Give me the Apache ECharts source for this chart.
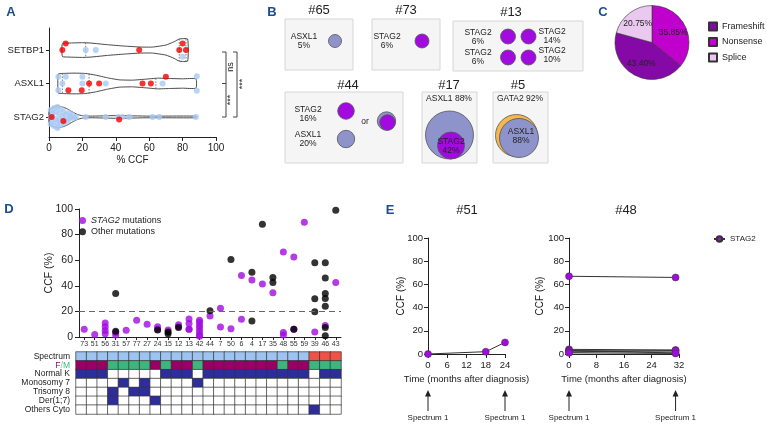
<!DOCTYPE html>
<html>
<head>
<meta charset="utf-8">
<title>STAG2 clonal architecture</title>
<script src="https://cdn.jsdelivr.net/npm/echarts@6.0.0/dist/echarts.min.js"></script>
<style>
  html, body { margin: 0; padding: 0; background: #fff; }
  #chart { width: 767px; height: 430px; }
</style>
</head>
<body>
<div id="chart"></div>
<script>
const FONT = 'Liberation Sans, Arial, sans-serif'
const PURPLE = '#A10BE0'
const LAV = '#8E93CB'
const ORANGE = '#F6B74C'
const LETTER = '#1E4D8C'

// ---- A: CCF per gene (violin + dots), [ccf, jitter] ----
const genes = ['STAG2', 'ASXL1', 'SETBP1']
const violinCCF = {
  STAG2: [0, 2, 5, 8, 11, 14, 17, 20, 25, 40, 60, 88],
  ASXL1: [5.5, 8, 15, 22, 28, 35, 42, 50, 58, 65, 72, 80, 88],
  SETBP1: [8, 12, 20, 25, 35, 45, 55, 62, 70, 75, 78, 83]
}
const violinDensity = {
  STAG2: [0.18, 0.27, 0.33, 0.3, 0.24, 0.15, 0.075, 0.036, 0.024, 0.04, 0.024, 0.024],
  ASXL1: [0.28, 0.3, 0.31, 0.3, 0.25, 0.17, 0.11, 0.1, 0.13, 0.16, 0.15, 0.14, 0.14],
  SETBP1: [0.19, 0.21, 0.22, 0.21, 0.16, 0.12, 0.09, 0.09, 0.15, 0.25, 0.33, 0.33]
}
const violinQuartiles = { STAG2: [], ASXL1: [8, 24, 64], SETBP1: [22, 78, 82] }

const redSTAG2 = [[1.6, 0], [8.6, -0.12], [42, -0.08]]
const blueSTAG2 = [[1, 0.21], [1, 0], [1, -0.21], [2, 0.09], [2, -0.12], [3, 0.27], [3, -0.27], [4, 0.15],
  [4, -0.06], [5, 0.3], [5, -0.18], [5, -0.33], [6, 0.09], [6, -0.09], [7, 0.24], [7, -0.24], [8, 0],
  [9, 0.15], [9, -0.18], [10, 0.06], [11, -0.12], [12, 0.12], [12, -0.06], [13, 0], [14, 0.06],
  [15, -0.03], [16, 0], [22, 0], [34, 0], [41.5, 0], [44, 0], [48, 0], [62, 0], [66, 0], [88, 0]]
const redASXL1 = [[11.6, -0.2], [19.6, -0.2], [24, 0], [30, 0], [56, 0], [61, 0], [70, 0.2]]
const blueASXL1 = [[5.6, 0.2], [5.6, -0.2], [8, 0], [10, 0.2], [20, 0.2], [20, 0], [34, 0], [68, 0], [88.5, 0.22], [88.5, -0.22]]
const redSETBP1 = [[8, 0], [10, 0.2], [54, 0], [80, 0.2], [78, 0], [82, 0]]
const blueSETBP1 = [[22, 0], [28, 0], [80, -0.2]]

// ---- C: mutation types ----
const mutTypes = ['Frameshift', 'Nonsense', 'Splice']
const mutPct = [43.40, 35.85, 20.75]
const mutColors = ['#8409A6', '#C000CC', '#EBC8EF']
const pieOrder = [1, 0, 2]

// ---- D: CCF per patient ----
const patients = ['73', '51', '56', '31', '57', '77', '27', '24', '15', '12', '13', '42', '44', '7', '50', '6', '4', '17', '35', '48', '55', '59', '39', '46', '43']
const stag2CCF = [[6], [2], [11, 8, 5, 2.5], [1.5, 3.5], [5.2], [13], [10], [8, 6], [5.5], [9.5, 8], [14, 10.5, 6, 6],
  [13, 11.5, 9, 7, 4.5, 2, 0.5], [16.5], [22.5, 7.8], [6.5], [48, 13.8], [44.6], [41.5], [34.5], [66.5, 3.5, 1.5],
  [62.5, 6], [89.6], [4], [9], [42.5]]
const otherCCF = [[], [], [], [34, 4.5], [], [], [], [5.5], [4, 2.5], [7.5], [], [], [20.5], [], [60.6], [], [50.6, 12.5],
  [88], [46.5, 42.5], [], [6], [], [58, 29.8, 19.8], [58, 46, 34, 30, 24, 7.5, 1], [99]]
const heatRows = ['Spectrum', 'F/M', 'Normal K', 'Monosomy 7', 'Trisomy 8', 'Der(1;7)', 'Others Cyto']
const spectrumVer = [1, 1, 1, 1, 1, 1, 1, 1, 1, 1, 1, 1, 1, 1, 1, 1, 1, 1, 1, 1, 1, 1, 2, 2, 2]
const sex = ['F', 'F', 'F', 'M', 'M', 'M', 'M', 'F', 'M', 'F', 'F', 'M', 'F', 'F', 'F', 'F', 'F', 'F', 'F', 'M', 'F', 'F', 'M', 'M', 'M']
const normalK = [1, 1, 1, 0, 0, 0, 0, 0, 1, 1, 1, 0, 1, 1, 1, 1, 1, 1, 1, 1, 1, 1, 0, 1, 1]
const mono7 = [0, 0, 0, 0, 1, 0, 1, 0, 0, 0, 0, 1, 0, 0, 0, 0, 0, 0, 0, 0, 0, 0, 0, 0, 0]
const tri8 = [0, 0, 0, 1, 0, 1, 1, 0, 0, 0, 0, 0, 0, 0, 0, 0, 0, 0, 0, 0, 0, 0, 0, 0, 0]
const der17 = [0, 0, 0, 1, 0, 0, 0, 1, 0, 0, 0, 0, 0, 0, 0, 0, 0, 0, 0, 0, 0, 0, 0, 0, 0]
const othersCyto = [0, 0, 0, 0, 0, 0, 0, 0, 0, 0, 0, 0, 0, 0, 0, 0, 0, 0, 0, 0, 0, 0, 1, 0, 0]

// ---- E: follow-up ----
const months51 = [0, 18, 24]
const stag2Series51 = [[0, 2, 10]]
const months48 = [0, 31]
const stag2Series48 = [[67, 66], [4, 3.5], [3, 2.5], [2.5, 1], [1.5, 3], [1, 0.5]]
const spectrumTimes51 = [0, 24]
const spectrumTimes48 = [0, 31]
const spectrumLabel = 'Spectrum 1'

function interp (xs, ys, x) {
  for (let k = 1; k < xs.length; k++) {
    if (x <= xs[k]) {
      const f = (x - xs[k - 1]) / (xs[k] - xs[k - 1])
      return ys[k - 1] + f * (ys[k] - ys[k - 1])
    }
  }
  return ys[ys.length - 1]
}

function renderViolin (params, api) {
  const i = params.dataIndex
  const g = genes[i]
  const xs = violinCCF[g]
  const ws = violinDensity[g]
  const top = xs.map((x, k) => api.coord([x, i + ws[k]]))
  const bot = xs.map((x, k) => api.coord([x, i - ws[k]])).reverse()
  const children = [{
    type: 'polygon',
    shape: { points: top.concat(bot), smooth: 0.15 },
    style: { fill: 'none', stroke: '#333', lineWidth: 0.9 }
  }]
  violinQuartiles[g].forEach(q => {
    const w = interp(xs, ws, q)
    const a = api.coord([q, i + w])
    const b = api.coord([q, i - w])
    children.push({
      type: 'line',
      shape: { x1: a[0], y1: a[1], x2: b[0], y2: b[1] },
      style: { stroke: '#555', lineWidth: 0.8, lineDash: [1.5, 1.5] }
    })
  })
  return { type: 'group', children }
}

function toRows (byGene) {
  const out = []
  genes.forEach((g, i) => byGene[g].forEach(p => out.push([p[0], i + p[1]])))
  return out
}

const axisLine = { show: true, onZero: false, lineStyle: { color: '#222', width: 1 } }
const axisTick = { show: true, length: 4, lineStyle: { color: '#222' } }

const heatCodes = [
  spectrumVer.map(v => v === 1 ? 2 : 3),
  sex.map(s => s === 'F' ? 4 : 5),
  normalK, mono7, tri8, der17, othersCyto
]
const heatData = []
heatCodes.forEach((codes, r) => codes.forEach((c, i) => heatData.push([i, r, c])))

const dStag2 = []
stag2CCF.forEach((vals, c) => vals.forEach(v => dStag2.push([c, v])))
const dOther = []
otherCCF.forEach((vals, c) => vals.forEach(v => dOther.push([c, v])))

const series = []
series.push({
  type: 'custom', xAxisIndex: 0, yAxisIndex: 0, silent: true,
  renderItem: renderViolin,
  data: genes.map((g, i) => [0, i]), encode: { x: 0, y: 1 }, z: 1
})
series.push({
  type: 'scatter', name: 'A other', xAxisIndex: 0, yAxisIndex: 0, symbolSize: 6,
  itemStyle: { color: '#A9C9F2' }, data: toRows({ STAG2: blueSTAG2, ASXL1: blueASXL1, SETBP1: blueSETBP1 }), z: 3
})
series.push({
  type: 'scatter', name: 'A red', xAxisIndex: 0, yAxisIndex: 0, symbolSize: 6,
  itemStyle: { color: '#F20000' }, data: toRows({ STAG2: redSTAG2, ASXL1: redASXL1, SETBP1: redSETBP1 }), z: 4
})
const pieData = pieOrder.map(k => ({ name: mutTypes[k], value: mutPct[k], itemStyle: { color: mutColors[k] } }))
series.push({
  type: 'pie', center: [652, 42.5], radius: 37, startAngle: 90, silent: true,
  itemStyle: { borderColor: '#333', borderWidth: 0.6 },
  label: { show: false }, labelLine: { show: false }, data: pieData
})
series.push({
  type: 'pie', center: [652, 42.5], radius: [4, 37], startAngle: 90, silent: true,
  itemStyle: { color: 'transparent', borderWidth: 0 },
  label: { show: true, position: 'inside', fontSize: 8.5, color: '#222', formatter: p => p.value.toFixed(2) + '%' },
  labelLayout: { hideOverlap: false },
  data: pieOrder.map(k => ({ name: mutTypes[k], value: mutPct[k] }))
})
series.push({
  type: 'scatter', name: 'STAG2 mutations', xAxisIndex: 1, yAxisIndex: 1, symbolSize: 7,
  itemStyle: { color: PURPLE }, data: dStag2, z: 3
})
series.push({
  type: 'scatter', name: 'Other mutations', xAxisIndex: 1, yAxisIndex: 1, symbolSize: 7,
  itemStyle: { color: '#000' }, data: dOther, z: 4,
  markLine: {
    silent: true, symbol: 'none', label: { show: false },
    lineStyle: { type: [6, 4], color: '#666', width: 1 },
    data: [{ yAxis: 20 }]
  }
})
const heatIndex = series.length
series.push({
  type: 'heatmap', xAxisIndex: 2, yAxisIndex: 2, silent: true,
  itemStyle: { borderColor: '#333', borderWidth: 0.7 }, data: heatData
})
const lineStyleE = {
  type: 'line', name: 'STAG2', symbol: 'circle', symbolSize: 7, silent: true,
  lineStyle: { color: '#333', width: 1 },
  itemStyle: { color: PURPLE, borderColor: '#333', borderWidth: 0.5 }
}
stag2Series51.forEach(vals => series.push(Object.assign({}, lineStyleE, {
  xAxisIndex: 3, yAxisIndex: 3, data: vals.map((v, k) => [months51[k], v])
})))
stag2Series48.forEach(vals => series.push(Object.assign({}, lineStyleE, {
  xAxisIndex: 4, yAxisIndex: 4, data: vals.map((v, k) => [months48[k], v])
})))

const nameStyle = { color: '#222', fontSize: 10 }

const option = {
  animation: false,
  textStyle: { fontFamily: FONT },
  grid: [
    { left: 49, top: 28, width: 167, height: 109 },
    { left: 79, top: 209, width: 262, height: 128 },
    { left: 76, top: 352, width: 265, height: 62 },
    { left: 428, top: 238, width: 77, height: 116 },
    { left: 569, top: 238, width: 110, height: 116 }
  ],
  xAxis: [
    {
      gridIndex: 0, type: 'value', min: 0, max: 100, interval: 20,
      axisLine, axisTick, splitLine: { show: false },
      axisLabel: { color: '#222', fontSize: 10, margin: 6 },
      name: '% CCF', nameLocation: 'middle', nameGap: 18, nameTextStyle: nameStyle
    },
    {
      gridIndex: 1, type: 'category', data: patients, boundaryGap: true,
      axisLine, axisTick: { show: true, length: 3, alignWithLabel: true, lineStyle: { color: '#222' } },
      axisLabel: { interval: 0, color: '#333', fontSize: 7, margin: 4 }
    },
    {
      gridIndex: 2, type: 'category', data: patients, show: false
    },
    {
      gridIndex: 3, type: 'value', min: 0, max: 24, interval: 6,
      axisLine, axisTick, splitLine: { show: false },
      axisLabel: { color: '#222', fontSize: 9.5, margin: 6 },
      name: 'Time (months after diagnosis)', nameLocation: 'middle', nameGap: 20, nameTextStyle: { color: '#222', fontSize: 9.5 }
    },
    {
      gridIndex: 4, type: 'value', min: 0, max: 32, interval: 8,
      axisLine, axisTick, splitLine: { show: false },
      axisLabel: { color: '#222', fontSize: 9.5, margin: 6 },
      name: 'Time (months after diagnosis)', nameLocation: 'middle', nameGap: 20, nameTextStyle: { color: '#222', fontSize: 9.5 }
    }
  ],
  yAxis: [
    {
      gridIndex: 0, type: 'value', min: -0.6, max: 2.66,
      axisLine, splitLine: { show: false },
      axisTick: { show: true, length: 3, customValues: [0, 1, 2], lineStyle: { color: '#222' } },
      axisLabel: { customValues: [0, 1, 2], formatter: v => genes[v], color: '#222', fontSize: 9.5, margin: 5 }
    },
    {
      gridIndex: 1, type: 'value', min: 0, max: 100, interval: 20,
      axisLine, axisTick, splitLine: { show: false },
      axisLabel: { color: '#222', fontSize: 10.5, margin: 6 },
      name: 'CCF (%)', nameLocation: 'middle', nameGap: 24, nameMoveOverlap: false,
      nameTextStyle: { color: '#222', fontSize: 10.5 }
    },
    {
      gridIndex: 2, type: 'category', data: heatRows, inverse: true,
      axisLine: { show: false }, axisTick: { show: false },
      axisLabel: {
        interval: 0, color: '#222', fontSize: 8.5, margin: 6,
        formatter: v => v === 'F/M' ? '{f|F}{s|/}{m|M}' : v,
        rich: {
          f: { color: '#990066', fontSize: 8.5 },
          s: { color: '#7FBF9F', fontSize: 8.5 },
          m: { color: '#3EB57C', fontSize: 8.5 }
        }
      }
    },
    {
      gridIndex: 3, type: 'value', min: 0, max: 100, interval: 20,
      axisLine, axisTick, splitLine: { show: false },
      axisLabel: { color: '#222', fontSize: 9.5, margin: 5 },
      name: 'CCF (%)', nameLocation: 'middle', nameGap: 22, nameMoveOverlap: false,
      nameTextStyle: { color: '#222', fontSize: 10 }
    },
    {
      gridIndex: 4, type: 'value', min: 0, max: 100, interval: 20,
      axisLine, axisTick, splitLine: { show: false },
      axisLabel: { color: '#222', fontSize: 9.5, margin: 5 },
      name: 'CCF (%)', nameLocation: 'middle', nameGap: 24, nameMoveOverlap: false,
      nameTextStyle: { color: '#222', fontSize: 10 }
    }
  ],
  visualMap: {
    type: 'piecewise', show: false, seriesIndex: heatIndex, dimension: 2,
    pieces: [
      { value: 0, color: '#FFFFFF' },
      { value: 1, color: '#2D2D9C' },
      { value: 2, color: '#9DC3F0' },
      { value: 3, color: '#EE5248' },
      { value: 4, color: '#990066' },
      { value: 5, color: '#3EB57C' }
    ]
  },
  legend: [
    {
      data: mutTypes, left: 708, top: 21.5, padding: 0, orient: 'vertical', icon: 'rect',
      itemWidth: 8, itemHeight: 8, itemGap: 5.5, selectedMode: false,
      textStyle: { fontSize: 9, color: '#222', lineHeight: 10 }
    },
    {
      data: ['STAG2 mutations', 'Other mutations'], left: 79, top: 216, padding: 0, orient: 'vertical', icon: 'circle',
      itemWidth: 7, itemHeight: 7, itemGap: 2.3, selectedMode: false,
      formatter: n => n === 'STAG2 mutations' ? '{i|STAG2} mutations' : n,
      textStyle: { fontSize: 9, color: '#222', rich: { i: { fontStyle: 'italic', fontSize: 9, color: '#222' } } }
    },
    {
      data: ['STAG2'], left: 713, top: 235, padding: 0, itemWidth: 11, itemHeight: 7, itemGap: 3, selectedMode: false,
      textStyle: { fontSize: 8, color: '#222' }
    }
  ],
  series
}

const chart = echarts.init(document.getElementById('chart'), null, { renderer: 'canvas' })
chart.setOption(option)

function txt (x, y, text, size, extra) {
  return Object.assign({
    type: 'text', x, y, silent: true,
    style: Object.assign({
      text, fontSize: size, fontFamily: FONT, fill: '#222',
      align: 'center', verticalAlign: 'middle', textAlign: 'center', textVerticalAlign: 'middle',
      lineHeight: size + 0.5
    }, extra && extra.style)
  }, extra && extra.el)
}
function box (x, y, w, h) {
  return { type: 'rect', silent: true, shape: { x, y, width: w, height: h }, style: { fill: '#F5F5F5', stroke: '#D6D6D6', lineWidth: 1 } }
}
function dot (cx, cy, r, fill) {
  return { type: 'circle', silent: true, shape: { cx, cy, r }, style: { fill, stroke: '#555', lineWidth: 0.8 } }
}
function poly (points) {
  return { type: 'polyline', silent: true, shape: { points }, style: { stroke: '#444', lineWidth: 1, fill: 'none' } }
}
function letter (x, y, t) {
  return txt(x, y, t, 13, { style: { fill: LETTER, fontWeight: 'bold' } })
}

const els = []
els.push(letter(11, 12, 'A'), letter(272, 12, 'B'), letter(603, 12, 'C'), letter(9, 209, 'D'), letter(390, 210, 'E'))

// A: significance brackets
els.push(poly([[222, 52], [226, 52], [226, 117], [222, 117]]))
els.push(poly([[222, 83.5], [226, 83.5]]))
els.push(poly([[233, 52], [237, 52], [237, 117], [233, 117]]))
els.push(txt(231, 67, 'ns', 9, { el: { rotation: Math.PI / 2 } }))
els.push(txt(231, 100, '***', 9, { el: { rotation: Math.PI / 2 } }))
els.push(txt(243, 84, '***', 9, { el: { rotation: Math.PI / 2 } }))

// B: clone schematics
els.push(box(285, 19, 68, 51), txt(319, 10, '#65', 13))
els.push(txt(304, 41, 'ASXL1\n5%', 8.5), dot(335, 41, 6.5, LAV))
els.push(box(372, 19, 68, 51), txt(406, 10, '#73', 13))
els.push(txt(387, 41, 'STAG2\n6%', 8.5), dot(422, 41, 7, PURPLE))
els.push(box(453, 21, 130, 50), txt(511, 12, '#13', 13))
els.push(txt(478, 37, 'STAG2\n6%', 8.5), txt(478, 57.5, 'STAG2\n6%', 8.5))
els.push(dot(508, 36.5, 7.5, PURPLE), dot(528.5, 36.5, 7.5, PURPLE), dot(508, 57.5, 7.5, PURPLE), dot(528.5, 57.5, 7.5, PURPLE))
els.push(txt(552, 36, 'STAG2\n14%', 8.5), txt(552, 55, 'STAG2\n10%', 8.5))
els.push(box(285, 92, 118, 71), txt(348, 85, '#44', 13))
els.push(txt(308, 114, 'STAG2\n16%', 8.5), dot(346, 111, 8.3, PURPLE))
els.push(txt(308, 139, 'ASXL1\n20%', 8.5), dot(346, 139, 8.7, LAV))
els.push(txt(365, 122, 'or', 8.5), dot(386.5, 121, 9.2, LAV), dot(387.5, 122.5, 7.8, PURPLE))
els.push(box(422, 92, 55, 71), txt(449, 85, '#17', 13))
els.push(txt(449, 98.5, 'ASXL1 88%', 8.5), dot(449.5, 135, 24, LAV), dot(451, 145.5, 13.5, PURPLE))
els.push(txt(451, 146, 'STAG2\n42%', 8.5))
els.push(box(493, 92, 55, 71), txt(518, 85, '#5', 13))
els.push(txt(520, 98.5, 'GATA2 92%', 8.5), dot(516.5, 135.5, 21, ORANGE), dot(519, 138, 19.5, LAV))
els.push(txt(521, 136.5, 'ASXL1\n88%', 8.5))

// E: titles and sample arrows
els.push(txt(467, 210, '#51', 13), txt(626, 210, '#48', 13))
;[[3, spectrumTimes51], [4, spectrumTimes48]].forEach(([ax, times]) => {
  times.forEach(t => {
    const x = chart.convertToPixel({ xAxisIndex: ax }, t)
    els.push({ type: 'line', silent: true, shape: { x1: x, y1: 411, x2: x, y2: 395 }, style: { stroke: '#222', lineWidth: 1 } })
    els.push({ type: 'polygon', silent: true, shape: { points: [[x, 390], [x - 3, 396.5], [x + 3, 396.5]] }, style: { fill: '#222' } })
    els.push(txt(x, 418, spectrumLabel, 8))
  })
})

chart.setOption({ graphic: { elements: els } })
</script>
</body>
</html>
